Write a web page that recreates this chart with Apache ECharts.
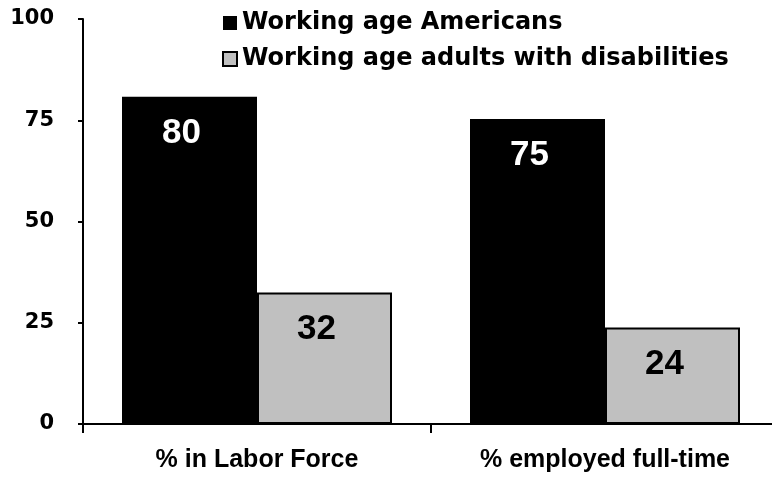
<!DOCTYPE html>
<html>
<head>
<meta charset="utf-8">
<script src="https://cdn.jsdelivr.net/npm/echarts@6/dist/echarts.min.js"></script>
<style>
html,body{margin:0;padding:0;background:#fff;}
#chart{width:772px;height:477px;}
</style>
</head>
<body>
<div id="chart"></div>
<script>
var categories = ['% in Labor Force', '% employed full-time'];
var seriesNames = ['Working age Americans', 'Working age adults with disabilities'];
var americansValues = [80.8, 75.3];
var americansLabels = ['80', '75'];
var disabledValues = [32.5, 23.8];
var disabledLabels = ['32', '24'];
var yTicks = [0, 25, 50, 75, 100];

var chart = echarts.init(document.getElementById('chart'), null, {renderer: 'canvas'});
var option = {
  animation: false,
  backgroundColor: '#ffffff',
  legend: {
    orient: 'vertical',
    left: 217,
    top: 6,
    itemWidth: 14,
    itemHeight: 14,
    itemGap: 12,
    selectedMode: false,
    textStyle: {fontFamily: 'DejaVu Sans', fontWeight: 'bold', fontSize: 24, color: '#000'},
    data: [
      {name: seriesNames[0], icon: 'rect', itemStyle: {color: '#000', borderWidth: 0}},
      {name: seriesNames[1], icon: 'rect', itemStyle: {color: '#C0C0C0', borderColor: '#000', borderWidth: 2}}
    ]
  },
  grid: {left: 83, width: 696, top: 19, height: 405, containLabel: false, outerBoundsMode: 'none'},
  xAxis: {
    type: 'category',
    data: categories,
    axisLine: {show: true, lineStyle: {color: '#000', width: 2}},
    axisTick: {show: true, length: 9, inside: false, lineStyle: {color: '#000', width: 2}},
    axisLabel: {margin: 24, fontFamily: 'Liberation Sans', fontWeight: 'bold', fontSize: 25, color: '#000'},
    splitLine: {show: false}
  },
  yAxis: {
    type: 'value',
    min: yTicks[0],
    max: yTicks[yTicks.length - 1],
    interval: 25,
    axisLine: {show: true, lineStyle: {color: '#000', width: 2}},
    axisTick: {show: true, length: 5, lineStyle: {color: '#000', width: 2}},
    axisLabel: {margin: 29, fontFamily: 'DejaVu Sans', fontWeight: 'bold', fontSize: 21, color: '#000'},
    splitLine: {show: false}
  },
  series: [
    {
      name: seriesNames[0],
      type: 'bar',
      data: americansValues,
      barWidth: 135,
      barGap: '0%',
      itemStyle: {color: '#000'},
      label: {
        show: true, position: 'insideTop', distance: 19, offset: [-8, 0],
        fontFamily: 'Liberation Sans', fontWeight: 'bold', fontSize: 35, color: '#fff',
        formatter: function (p) { return americansLabels[p.dataIndex]; }
      }
    },
    {
      name: seriesNames[1],
      type: 'bar',
      data: disabledValues,
      barWidth: 135,
      barGap: '0%',
      itemStyle: {color: '#C0C0C0', borderColor: '#000', borderWidth: 2},
      label: {
        show: true, position: 'insideTop', distance: 19, offset: [-8, 0],
        fontFamily: 'Liberation Sans', fontWeight: 'bold', fontSize: 35, color: '#000',
        formatter: function (p) { return disabledLabels[p.dataIndex]; }
      }
    }
  ]
};
chart.setOption(option);
</script>
</body>
</html>
